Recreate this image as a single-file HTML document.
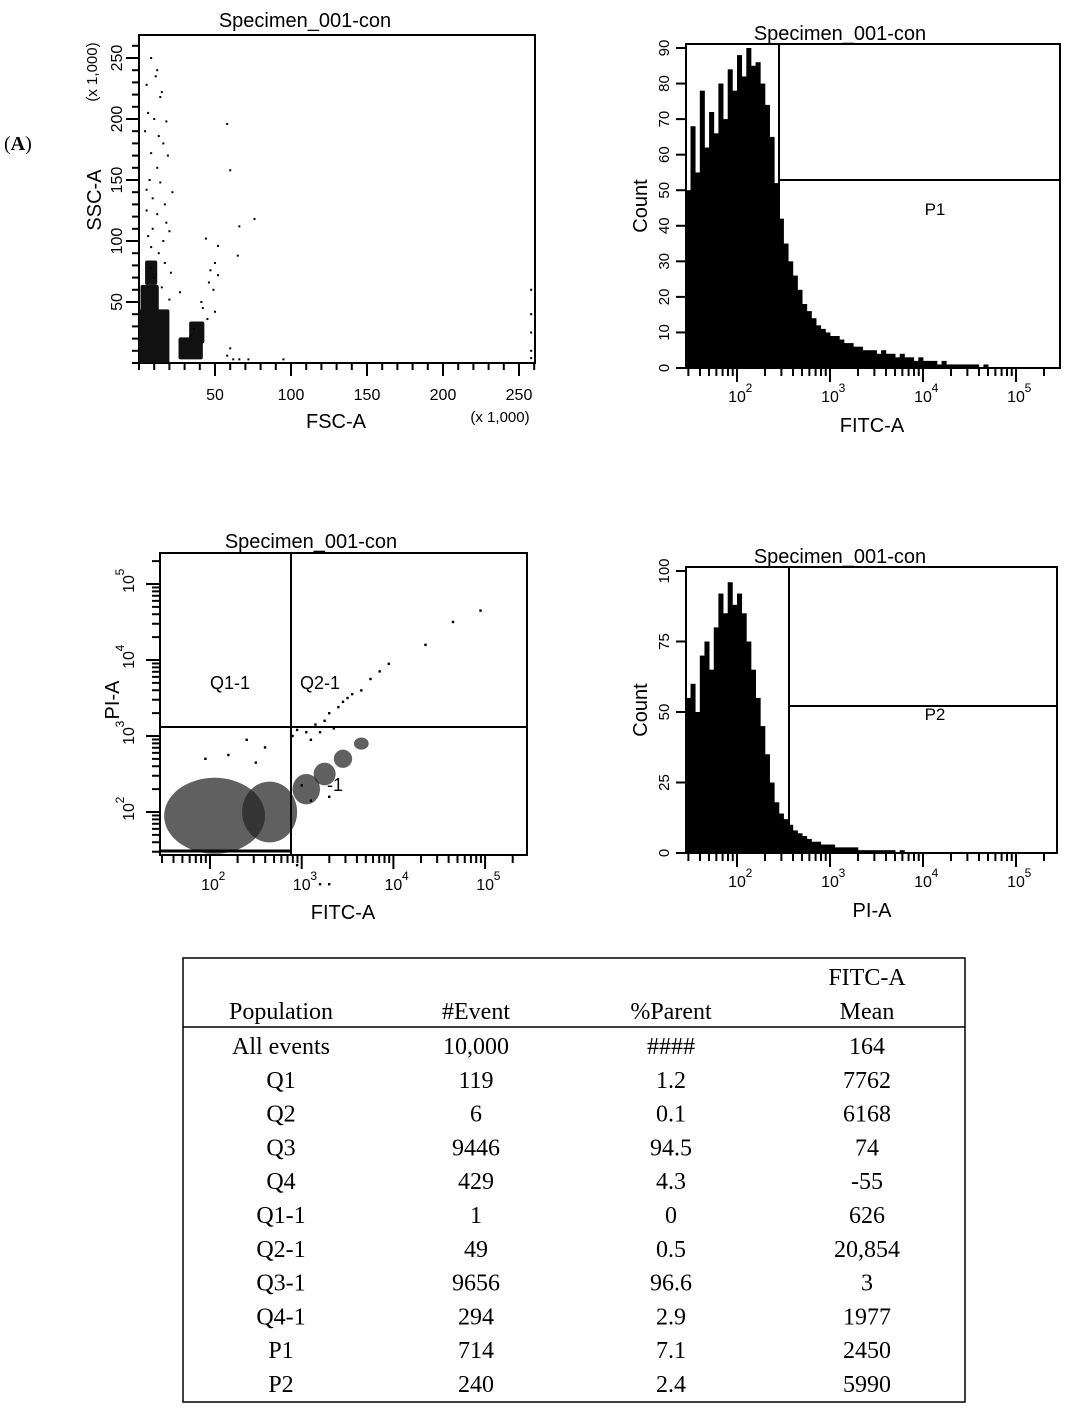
<!DOCTYPE html>
<html><head><meta charset="utf-8"><style>
body{margin:0;background:#fff}
svg{display:block}
.t{font-family:"Liberation Sans",sans-serif;fill:#000}
.tm{font-family:"Liberation Serif",serif;fill:#000;font-size:24px}
</style></head><body>
<svg id="s" width="1080" height="1410" viewBox="0 0 1080 1410" xmlns="http://www.w3.org/2000/svg">
<text x="4" y="150" class="tm" style="font-size:20px">(<tspan font-weight="bold">A</tspan>)</text>
<g id="g1"></g>
<g id="g2"></g>
<g id="g3"></g>
<g id="g4"></g>
<g id="tbl">
<rect x="183" y="958" width="782" height="444" fill="none" stroke="#000" stroke-width="1.5"/>
<line x1="183" y1="1027" x2="965" y2="1027" stroke="#000" stroke-width="1.5"/>
<text x="281" y="1019" text-anchor="middle" class="tm">Population</text>
<text x="476" y="1019" text-anchor="middle" class="tm">#Event</text>
<text x="671" y="1019" text-anchor="middle" class="tm">%Parent</text>
<text x="867" y="985" text-anchor="middle" class="tm">FITC-A</text>
<text x="867" y="1019" text-anchor="middle" class="tm">Mean</text>
</g>
</svg>
<script>
const NS="http://www.w3.org/2000/svg";
// ---------- data ----------
const tableRows=[["All events","10,000","####","164"],["Q1","119","1.2","7762"],["Q2","6","0.1","6168"],["Q3","9446","94.5","74"],["Q4","429","4.3","-55"],["Q1-1","1","0","626"],["Q2-1","49","0.5","20,854"],["Q3-1","9656","96.6","3"],["Q4-1","294","2.9","1977"],["P1","714","7.1","2450"],["P2","240","2.4","5990"]];
// FSC/SSC (x1000) sparse events
const scatter1Pts=[[8,250],[12,240],[11,235],[5,228],[15,222],[14,218],[6,205],[10,200],[18,198],[58,196],[4,190],[13,186],[16,180],[8,172],[19,170],[12,160],[60,158],[7,150],[14,148],[5,142],[22,140],[9,135],[17,130],[5,125],[12,122],[18,115],[76,118],[66,112],[9,110],[20,108],[6,104],[16,100],[44,102],[52,96],[8,95],[13,90],[65,88],[50,82],[17,82],[47,76],[8,78],[21,74],[52,72],[10,70],[46,66],[15,62],[49,60],[27,58],[41,50],[20,52],[42,45],[50,42],[45,36],[36,28],[34,22],[60,12],[58,6],[62,3],[66,3],[72,3],[95,3],[258,60],[258,40],[258,25],[258,10],[258,4]];
// dense clusters [fsc, ssc, halfwidthFsc, halfheightSsc]
const scatter1Clusters=[[10,22,10,22],[7,50,6,14],[8,74,4,10],[34,12,8,9],[38,25,5,9]];
// FITC histogram counts, bins of 0.05 decade from 10^1.45
const hist1=[50,68,55,78,62,72,66,80,70,84,78,88,82,90,85,86,80,74,65,52,42,35,30,26,22,18,16,14,12,11,10,9,9,8,7,7,6,6,5,5,5,4,5,4,4,3,4,3,3,2,3,2,2,2,1,2,1,1,1,1,1,1,1,0,1,0,0,0,0,0,0,0,0,0,0,0,0,0,0,0];
const hist1Ticks=[0,10,20,30,40,50,60,70,80,90];
// PI histogram counts, bins of 0.05 decade from 10^1.45
const hist2=[55,60,50,70,75,65,80,92,85,96,88,92,85,75,65,55,45,35,25,18,14,12,10,8,7,6,5,4,4,3,3,3,2,2,2,2,2,1,1,1,1,1,1,1,1,0,1,0,0,0,0,0,0,0,0,0,0,0,0,0,0,0,0,0,0,0,0,0,0,0,0,0,0,0,0,0,0,0,0,0];
const hist2Ticks=[0,25,50,75,100];
// FITC/PI events (log10 values)
const scatter3Pts=[[3.05,3.05],[3.25,3.2],[3.4,3.38],[3.5,3.5],[3.55,3.55],[3.65,3.6],[3.75,3.75],[3.85,3.85],[3.95,3.95],[4.35,4.2],[4.65,4.5],[4.95,4.65],[3.15,3.15],[3.3,3.3],[3.45,3.45],[3.1,2.95],[3.2,3.05],[3.35,3.1],[2.9,3.0],[2.95,3.08],[2.4,2.95],[2.6,2.85],[2.2,2.75],[1.95,2.7],[2.5,2.65],[3.3,2.2],[3.1,2.15],[3.0,2.35],[2.95,1.3],[3.2,1.05],[3.3,1.05]];
// dense region [fitcLog, piLog, halfwidthDecades, halfheightDecades]
const scatter3Clusters=[[2.05,1.95,0.55,0.5],[2.65,2.0,0.3,0.4],[3.05,2.3,0.15,0.2],[3.25,2.5,0.12,0.15],[3.45,2.7,0.1,0.12],[3.65,2.9,0.08,0.08]];
const logTicks=[2,3,4,5];
// ---------- helpers ----------
function el(tag,attrs,parent){const e=document.createElementNS(NS,tag);for(const k in attrs)e.setAttribute(k,attrs[k]);parent.appendChild(e);return e;}
function txt(str,x,y,size,parent,anchor,rot){const e=el("text",{x:x,y:y,"font-size":size,"text-anchor":anchor||"middle",class:"t"},parent);if(rot)e.setAttribute("transform",`rotate(-90 ${x} ${y})`);e.textContent=str;return e;}
function line(x1,y1,x2,y2,p,w){return el("line",{x1,y1,x2,y2,stroke:"#000","stroke-width":w||1.5},p);}
function box(x,y,w,h,p){el("rect",{x,y,width:w,height:h,fill:"none",stroke:"#000","stroke-width":2},p);}
// ---------- panel 1 ----------
(function(){
const g=document.getElementById("g1");
const X=v=>139+v*1.52, Y=v=>363-v*1.22;
box(139,35,396,328,g);
const t=txt("Specimen_001-con",305,27,20,g);
for(let v=0;v<=260;v+=10){const mj=v%50==0&&v>0;line(X(v),363,X(v),mj?376:370,g,2);}
for(let v=0;v<=260;v+=10){const mj=v%50==0&&v>0;line(139,Y(v),mj?126:132,Y(v),g,2);}
[50,100,150,200,250].forEach(v=>{txt(String(v),X(v),400,16,g);txt(String(v),122,Y(v),16,g,"middle",true);});
const xl=txt("FSC-A",336,428,20,g);
const yl=txt("SSC-A",101,200,20,g,"middle",true);
txt("(x 1,000)",500,422,15,g);txt("(x 1,000)",97,72,15,g,"middle",true);
scatter1Clusters.forEach(c=>{const e=el("rect",{x:X(c[0]-c[2]),y:Y(c[1]+c[3]),width:c[2]*2*1.52,height:c[3]*2*1.22,fill:"#111",rx:2},g);

});
scatter1Pts.forEach(p=>{const e=el("rect",{x:X(p[0])-1,y:Y(p[1])-1,width:2,height:2,fill:"#000"},g);

});
})();
// ---------- histograms ----------
function hist(gid,top,bottom,right,maxV,data,ticks,gateX,gateY,label,xTitle,labelY){
const g=document.getElementById(gid);
const L=686, X=l=>737+(l-2)*93, Y=v=>bottom-v*(bottom-top-4)/maxV;
data.forEach((v,i)=>{if(v<=0)return;const x0=X(1.45+i*0.05);const e=el("rect",{x:x0,y:Y(v),width:93*0.05+0.4,height:bottom-Y(v),fill:"#000"},g);

});
box(L,top,right-L,bottom-top,g);
const tt=txt("Specimen_001-con",840,top-4,20,g);
line(gateX,top,gateX,bottom,g,2);line(gateX,gateY,right,gateY,g,2);
const gl=txt(label,935,labelY,17,g);
ticks.forEach(v=>{line(L,Y(v),L-10,Y(v),g,2);txt(String(v),669,Y(v),15,g,"middle",true);});
for(let d=1;d<=5;d++)for(let m=1;m<10;m++){const l=d+Math.log10(m);const x=X(l);if(x<L||x>right)continue;line(x,bottom,x,bottom+(m==1?14:8),g,2);}
logTicks.forEach(d=>{const x=X(d);txt("10",x,bottom+34,16,g);txt(String(d),x+12,bottom+24,12,g);});
const yl=txt("Count",647,(top+bottom)/2,20,g,"middle",true);
const xl=txt(xTitle,872,bottom+64,20,g);
}
hist("g2",44,368,1060,90,hist1,hist1Ticks,779,180,"P1","FITC-A",215);
hist("g4",567,853,1057,100,hist2,hist2Ticks,789,706,"P2","PI-A",720);
// ---------- panel 3 ----------
(function(){
const g=document.getElementById("g3");
const X=l=>210+(l-2)*91.7, Y=l=>812-(l-2)*76;
const clip=el("clipPath",{id:"c3"},g);el("rect",{x:160,y:553,width:367,height:302},clip);
const cg=el("g",{"clip-path":"url(#c3)"},g);
scatter3Clusters.forEach(c=>{const e=el("ellipse",{cx:X(c[0]),cy:Y(c[1]),rx:c[2]*91.7,ry:c[3]*76,fill:"#222","fill-opacity":0.72},cg);

});
scatter3Pts.forEach(p=>{const e=el("rect",{x:X(p[0])-1.2,y:Y(p[1])-1.2,width:2.4,height:2.4,fill:"#000"},g);

});
el("rect",{x:160,y:553,width:367,height:302,fill:"none",stroke:"#000","stroke-width":2},g);
line(160,851,290,851,g,3);
const tt=txt("Specimen_001-con",311,548,20,g);
line(291,553,291,855,g,2);line(160,727,527,727,g,2);
const q1=txt("Q1-1",230,689,18,g);
const q2=txt("Q2-1",320,689,18,g);
txt("-1",335,791,18,g);
for(let d=1;d<=5;d++)for(let m=1;m<10;m++){const l=d+Math.log10(m);const x=X(l),y=Y(l);
if(x>=162&&x<=527)line(x,855,x,855+(m==1?14:8),g,2);
if(y>=555&&y<=853)line(160,y,160-(m==1?14:8),y,g,2);}
logTicks.forEach(d=>{const x=X(d);txt("10",x,890,16,g);txt(String(d),x+12,880,12,g);
const y=Y(d);txt("10",134,y,16,g,"middle",true);txt(String(d),124,y-12,12,g,"middle",true);});
const xl=txt("FITC-A",343,919,20,g);
const yl=txt("PI-A",119,700,20,g,"middle",true);
})();
// ---------- table ----------
(function(){
const g=document.getElementById("tbl");const cx=[281,476,671,867];
tableRows.forEach((r,i)=>{r.forEach((c,j)=>{const e=el("text",{x:cx[j],y:1054+i*33.8,"text-anchor":"middle",class:"tm"},g);e.textContent=c;

});});
})();
</script>
</body></html>
